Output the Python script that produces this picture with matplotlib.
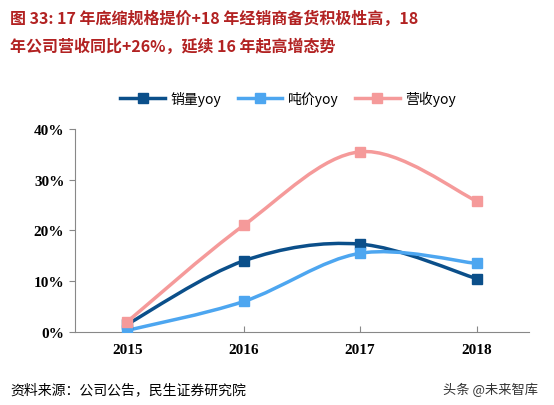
import matplotlib
matplotlib.use("Agg")
import matplotlib.pyplot as plt
from matplotlib.path import Path
from matplotlib.patches import PathPatch
from matplotlib.lines import Line2D
import numpy as np

plt.rcParams['font.family'] = ['Noto Sans CJK SC', 'DejaVu Sans']

years = ["2015", "2016", "2017", "2018"]
sales = [1.5, 14.0, 17.3, 10.5]
price = [0.3, 6.0, 15.5, 13.5]
revenue = [2.0, 21.0, 35.5, 25.8]
names = ["销量yoy", "吨价yoy", "营收yoy"]
colors = ["#0B4F8A", "#4DA6F0", "#F59A9A"]

fig = plt.figure(figsize=(5.54, 4.06), dpi=100)
ax = fig.add_axes([0.135, 0.18, 0.82, 0.5])

def smooth(ax, x, y, color):
    x = np.asarray(x, float); y = np.asarray(y, float)
    verts = [(x[0], y[0])]; codes = [Path.MOVETO]
    n = len(x)
    for i in range(n - 1):
        p0 = (x[i-1], y[i-1]) if i > 0 else (x[i], y[i])
        p3 = (x[i+2], y[i+2]) if i + 2 < n else (x[i+1], y[i+1])
        t = 1/6
        c1 = (x[i] + (x[i+1]-p0[0])*t, y[i] + (y[i+1]-p0[1])*t)
        c2 = (x[i+1] - (p3[0]-x[i])*t, y[i+1] - (p3[1]-y[i])*t)
        verts += [c1, c2, (x[i+1], y[i+1])]
        codes += [Path.CURVE4]*3
    ax.add_patch(PathPatch(Path(verts, codes), fill=False, edgecolor=color, lw=2.5, zorder=2))

xs = np.arange(len(years))
for vals, c, nm in zip([sales, price, revenue], colors, names):
    smooth(ax, xs, vals, c)
    ax.plot(xs, vals, 's', color=c, ms=7, zorder=3, label=nm)

ax.set_xlim(-0.45, 3.45)
ax.set_ylim(0, 40)
ax.set_yticks([0, 10, 20, 30, 40])
ax.set_yticklabels([f"{v}%" for v in [0, 10, 20, 30, 40]], fontsize=11, fontweight='bold', family='Liberation Serif')
ax.set_xticks(xs)
ax.set_xticklabels(years, fontsize=11, fontweight='bold', family='Liberation Serif')
for s in ['top', 'right']:
    ax.spines[s].set_visible(False)
ax.spines['left'].set_color('#888888'); ax.spines['bottom'].set_color('#888888')
ax.tick_params(axis='both', length=4, color='#888888')
ax.tick_params(axis='x', direction='in', pad=8)

handles = [Line2D([0], [0], color=c, lw=2.5, marker='s', ms=7) for c in colors]
fig.legend(handles, names, loc='center', bbox_to_anchor=(0.52, 0.755), ncol=3, frameon=False,
           fontsize=10, handlelength=3.2, columnspacing=1.2, handletextpad=0.4)

fig.text(0.018, 0.955, "图 33: 17 年底缩规格提价+18 年经销商备货积极性高，18", color='#B22222',
         fontsize=11.5, fontweight='bold', va='center')
fig.text(0.018, 0.885, "年公司营收同比+26%，延续 16 年起高增态势", color='#B22222',
         fontsize=11.5, fontweight='bold', va='center')
fig.text(0.018, 0.04, "资料来源：公司公告，民生证券研究院", fontsize=10, va='center', style='italic')
fig.text(0.80, 0.04, "头条 @未来智库", fontsize=9.5, va='center', color='#333333')

fig.savefig("out.png", dpi=100)
